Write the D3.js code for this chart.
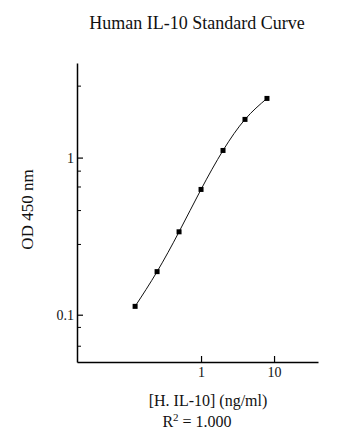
<!DOCTYPE html>
<html>
<head>
<meta charset="utf-8">
<script src="https://cdn.jsdelivr.net/npm/d3@7"></script>
<style>
  html, body { margin: 0; padding: 0; background: #fff; }
  svg { display: block; }
  text { font-family: "Liberation Serif", "Times New Roman", serif; fill: #111; }
</style>
</head>
<body>
<svg id="chart" width="360" height="444"></svg>
<script>
// ---- data ----
const concentrations = [0.125, 0.25, 0.5, 1, 2, 4, 8];           // ng/ml
const odValues       = [0.113, 0.188, 0.337, 0.627, 1.11, 1.75, 2.38];
const xTickValues    = [1, 10];
const xTickLabels    = ["1", "10"];
const yTickValues    = [0.1, 1];
const yTickLabels    = ["0.1", "1"];
const yMinorTicks    = [2.85, 0.82, 0.65, 0.46, 0.28, 0.083, 0.063];
const xDomain        = [0.02, 40];
const yDomain        = [0.05, 4];
const titleText      = "Human IL-10 Standard Curve";
const xLabelText     = "[H. IL-10] (ng/ml)";
const yLabelText     = "OD 450 nm";

// ---- layout ----
const svg = d3.select("#chart");
const plotLeft = 77, plotRight = 318, plotTop = 63, plotBottom = 362;

const x = d3.scaleLog().domain(xDomain).range([plotLeft, plotRight]);
const y = d3.scaleLog().domain(yDomain).range([plotBottom, plotTop]);

// title
svg.append("text")
  .attr("x", 197).attr("y", 29)
  .attr("text-anchor", "middle")
  .style("font-size", "18px")
  .text(titleText);

// y axis
const yAxis = d3.axisLeft(y)
  .tickValues(yTickValues)
  .tickFormat((d, i) => yTickLabels[i])
  .tickSizeInner(-6).tickSizeOuter(0).tickPadding(3);
const gy = svg.append("g").attr("transform", `translate(${plotLeft},0)`).call(yAxis);
gy.select(".domain").attr("stroke", "#000").attr("stroke-width", 1.5);
gy.selectAll(".tick line").attr("stroke", "#000").attr("stroke-width", 1.2);
gy.selectAll(".tick text").style("font-size", "14px")
  .style("font-family", "'Liberation Serif', serif").attr("fill", "#111");

// y minor ticks
gy.selectAll(".minor").data(yMinorTicks).enter().append("line")
  .attr("class", "minor")
  .attr("x1", 0).attr("x2", 4)
  .attr("y1", d => y(d)).attr("y2", d => y(d))
  .attr("stroke", "#000").attr("stroke-width", 1);

// x axis
const xAxis = d3.axisBottom(x)
  .tickValues(xTickValues)
  .tickFormat((d, i) => xTickLabels[i])
  .tickSizeInner(-6).tickSizeOuter(0).tickPadding(5);
const gx = svg.append("g").attr("transform", `translate(0,${plotBottom})`).call(xAxis);
gx.select(".domain").attr("stroke", "#000").attr("stroke-width", 1.5);
gx.selectAll(".tick line").attr("stroke", "#000").attr("stroke-width", 1.2);
gx.selectAll(".tick text").style("font-size", "14px")
  .style("font-family", "'Liberation Serif', serif").attr("fill", "#111");

// axis labels
svg.append("text")
  .attr("transform", `translate(33,${(plotTop + plotBottom) / 2 - 3}) rotate(-90)`)
  .attr("text-anchor", "middle")
  .style("font-size", "17px")
  .attr("fill", "#333")
  .text(yLabelText);

svg.append("text")
  .attr("x", 208).attr("y", 406)
  .attr("text-anchor", "middle")
  .style("font-size", "16px")
  .text(xLabelText);

const r2 = svg.append("text")
  .attr("x", 197).attr("y", 427)
  .attr("text-anchor", "middle")
  .style("font-size", "16px")
  .attr("fill", "#333");
r2.append("tspan").text("R");
r2.append("tspan").attr("dy", -6).style("font-size", "11px").text("2");
r2.append("tspan").attr("dy", 6).text(" = 1.000");

// data
const pts = concentrations.map((c, i) => ({ c, v: odValues[i] }));
const line = d3.line()
  .x(d => x(d.c)).y(d => y(d.v))
  .curve(d3.curveNatural);

svg.append("path")
  .datum(pts)
  .attr("d", line)
  .attr("fill", "none")
  .attr("stroke", "#111")
  .attr("stroke-width", 1);

svg.selectAll(".pt").data(pts).enter().append("rect")
  .attr("class", "pt")
  .attr("x", d => x(d.c) - 2.5).attr("y", d => y(d.v) - 2.5)
  .attr("width", 5).attr("height", 5)
  .attr("fill", "#000");
</script>
</body>
</html>
